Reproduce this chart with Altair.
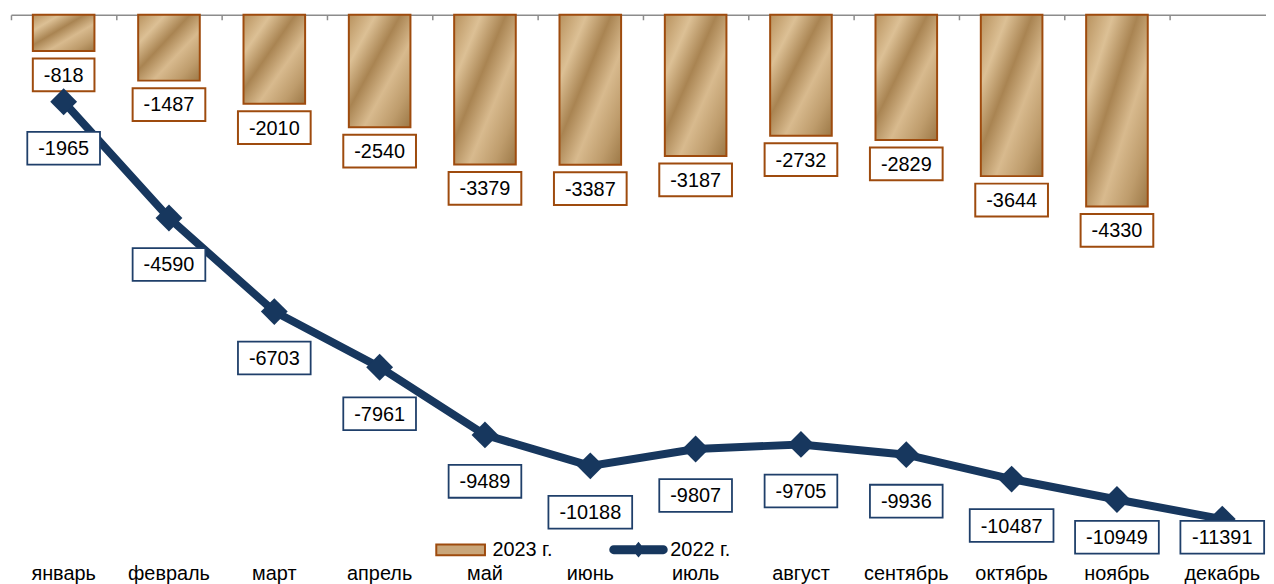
import altair as alt
import pandas as pd

# ---- data ----
months = ["январь", "февраль", "март", "апрель", "май", "июнь",
          "июль", "август", "сентябрь", "октябрь", "ноябрь", "декабрь"]
values_2023 = [-818, -1487, -2010, -2540, -3379, -3387, -3187, -2732, -2829, -3644, -4330]
values_2022 = [-1965, -4590, -6703, -7961, -9489, -10188, -9807, -9705, -9936, -10487, -10949, -11391]
series_names = ["2023 г.", "2022 г."]

# ---- style ----
FONT = "Liberation Sans, Arial, sans-serif"
NAVY = "#17375E"
NAVY_BORDER = "#1F3F6A"
BROWN = "#9E4B0E"
TAN = "#C9A67A"
AXIS_GREY = "#8C8C8C"
BAR_FILL = {
    "gradient": "linear", "x1": 0, "y1": 0, "x2": 1, "y2": 1,
    "stops": [
        {"offset": 0.0, "color": "#B8925E"},
        {"offset": 0.22, "color": "#DCC095"},
        {"offset": 0.42, "color": "#A98452"},
        {"offset": 0.62, "color": "#D8BA8E"},
        {"offset": 0.82, "color": "#BE9C6C"},
        {"offset": 1.0, "color": "#9C7846"},
    ],
}
W, H = 1263, 548
RECT_PATH = "M-0.845,-0.184L0.845,-0.184L0.845,0.184L-0.845,0.184Z"
LINE_PATH = ("M-0.86,-0.12L0.86,-0.12A0.12,0.12 0 0 1 0.86,0.12"
             "L-0.86,0.12A0.12,0.12 0 0 1 -0.86,-0.12Z"
             "M-0.18,0L0,-0.22L0.18,0L0,0.22Z")

bars_df = pd.DataFrame({"month": months[:len(values_2023)], "value": values_2023})
line_df = pd.DataFrame({"month": months, "value": values_2022})
legend_df = pd.DataFrame({"series": series_names})

x_scale = alt.Scale(domain=months, range=[0, 1272], paddingInner=0, paddingOuter=0)
y_scale = alt.Scale(domain=[-12300, 0], nice=False, zero=False)


def X(axis=None):
    return alt.X("month:N", scale=x_scale, axis=axis, title=None)


def Y(field):
    return alt.Y(field, scale=y_scale, axis=None, title=None)


top_axis = alt.Axis(orient="bottom", offset=-H, labels=False, domain=True, ticks=True,
                    bandPosition=0, tickSize=5, tickColor=AXIS_GREY, tickWidth=1.5,
                    domainColor=AXIS_GREY, domainWidth=1.5, grid=False, title=None)
label_axis = alt.Axis(orient="bottom", domain=False, ticks=False, tickSize=0, labelPadding=20,
                      labelBaseline="alphabetic", labelFont=FONT, labelFontSize=20,
                      labelColor="#000000", labelAngle=0, labelOverlap=False, grid=False,
                      title=None)

bars = alt.Chart(bars_df).mark_bar(width=62, fill=BAR_FILL, stroke=BROWN, strokeWidth=2).encode(
    x=X(top_axis), y=Y("value:Q"))


def label_layers(df, ycalc, border, border_width):
    base = alt.Chart(df).transform_calculate(lbl="'' + datum.value", ly=ycalc)
    layers = []
    for n in (4, 5, 6):
        w = 11.12 * (n - 1) + 6.67 + 22
        a = w / 33.0
        path = f"M{-a:.3f},-1L{a:.3f},-1L{a:.3f},1L{-a:.3f},1Z"
        layers.append(
            base.transform_filter(f"length(datum.lbl) == {n}")
            .mark_point(shape=path, size=1089, filled=True, fill="white", stroke=border,
                        strokeWidth=border_width, opacity=1)
            .encode(x=X(), y=Y("ly:Q"))
        )
    layers.append(
        base.mark_text(font=FONT, fontSize=20, color="#000000", baseline="alphabetic",
                       align="center", dy=7)
        .encode(x=X(), y=Y("ly:Q"), text="lbl:N")
    )
    return layers


bar_labels = label_layers(bars_df, "datum.value - 540", BROWN, 2)

line = alt.Chart(line_df).mark_line(color=NAVY, strokeWidth=8).encode(
    x=X(label_axis), y=Y("value:Q"))
points = alt.Chart(line_df).mark_point(shape="diamond", filled=True, size=729, color=NAVY,
                                       opacity=1).encode(x=X(), y=Y("value:Q"))
line_labels = label_layers(line_df, "max(datum.value - 1050, -11800)", NAVY_BORDER, 1.8)


def make_legend():
    return alt.Legend(
        title=None, orient="none", legendX=422.5, legendY=508, direction="horizontal",
        symbolSize=3364, symbolStrokeWidth=2, symbolOpacity=1, labelFont=FONT,
        labelFontSize=20, labelColor="#000000", labelOffset=2, columnPadding=53,
        padding=0,
    )


legend_layer = alt.Chart(legend_df).mark_point(filled=True, opacity=0).encode(
    shape=alt.Shape("series:N", scale=alt.Scale(domain=series_names, range=[RECT_PATH, LINE_PATH]),
                    legend=make_legend()),
    fill=alt.Fill("series:N", scale=alt.Scale(domain=series_names, range=[TAN, NAVY]),
                  legend=make_legend()),
    stroke=alt.Stroke("series:N", scale=alt.Scale(domain=series_names, range=[BROWN, NAVY]),
                      legend=make_legend()),
)

chart = (
    alt.layer(bars, *bar_labels, line, points, *line_labels, legend_layer)
    .resolve_axis(x="independent")
    .properties(width=W, height=H, autosize=alt.AutoSizeParams(type="none"),
                padding={"left": 3, "top": 5, "right": 0, "bottom": 25},
                background="white")
    .configure_view(stroke=None)
)

chart.save("out.html", embed_options={"renderer": "svg", "actions": False})
